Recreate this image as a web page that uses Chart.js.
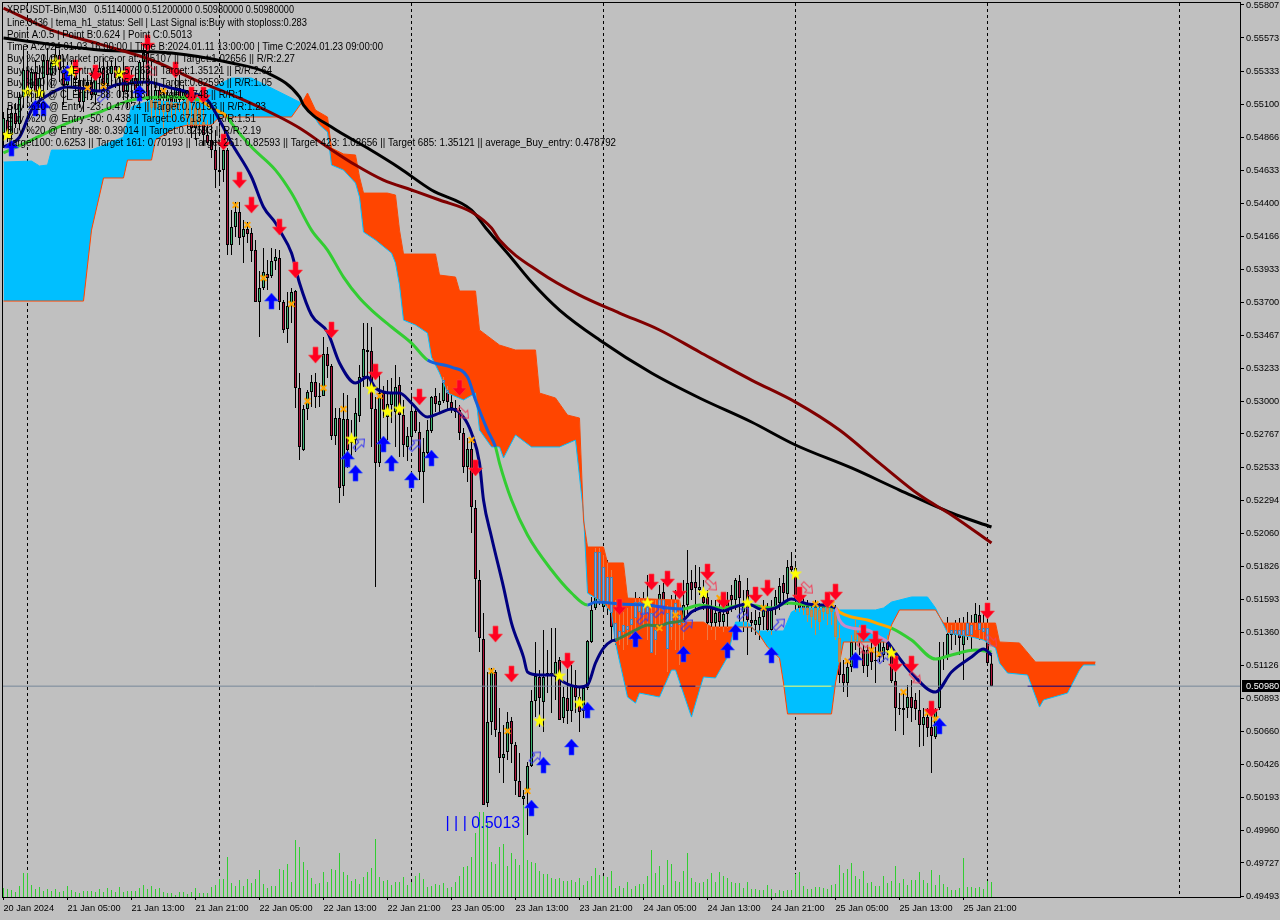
<!DOCTYPE html>
<html>
<head>
<meta charset="utf-8">
<title>XRPUSDT-Bin,M30</title>
<script src="https://cdn.jsdelivr.net/npm/chart.js@4"></script>
<style>
  html, body { margin: 0; padding: 0; background: #C0C0C0; }
  canvas { display: block; }
</style>
</head>
<body>
<canvas id="chart" width="1280" height="920"></canvas>
<script>
// M30 candles, one value per bar
const opens = [0.549,0.54992,0.54885,0.55041,0.54963,0.55155,0.55346,0.55218,0.55332,0.5519,0.55289,0.55417,0.55311,0.55396,0.55452,0.55346,0.5524,0.55332,0.55374,0.55275,0.55119,0.55218,0.55261,0.55169,0.55289,0.5536,0.55247,0.55318,0.55374,0.55289,0.55332,0.5519,0.55247,0.55289,0.55204,0.55403,0.55466,0.55133,0.55077,0.55204,0.55098,0.55048,0.55169,0.55077,0.55218,0.55133,0.5519,0.55006,0.54935,0.55077,0.54977,0.54885,0.5485,0.54779,0.54637,0.54637,0.54779,0.54106,0.54233,0.5434,0.54163,0.54219,0.54191,0.5407,0.53702,0.53801,0.539,0.53886,0.53992,0.54014,0.53702,0.53511,0.53674,0.5378,0.53093,0.52653,0.52944,0.53064,0.53135,0.53036,0.53036,0.53333,0.53249,0.52753,0.5288,0.52398,0.52873,0.52745,0.52724,0.52894,0.5317,0.53348,0.53355,0.52944,0.52561,0.53057,0.52887,0.52972,0.52923,0.53114,0.52901,0.52675,0.52745,0.5293,0.52781,0.52497,0.52632,0.52788,0.53036,0.52972,0.53,0.53078,0.52993,0.52923,0.52937,0.52774,0.52533,0.5266,0.52242,0.51732,0.51314,0.50152,0.50726,0.5108,0.50655,0.50471,0.50513,0.50733,0.50563,0.50308,0.5018,0.50223,0.50414,0.50875,0.51045,0.50868,0.51073,0.51059,0.51045,0.51165,0.50754,0.50896,0.50804,0.50988,0.50903,0.50804,0.50967,0.51293,0.51534,0.5193,0.51541,0.51753,0.51753,0.51293,0.51321,0.51364,0.51378,0.51413,0.51463,0.51576,0.51548,0.51541,0.51498,0.51307,0.51541,0.51647,0.51498,0.51399,0.51569,0.51413,0.51427,0.51555,0.51718,0.51718,0.51661,0.51612,0.51612,0.51541,0.51427,0.51505,0.51434,0.5159,0.51626,0.5159,0.51725,0.51505,0.51661,0.51449,0.51413,0.51413,0.5147,0.5152,0.51378,0.51534,0.51569,0.51711,0.51633,0.51831,0.51817,0.5159,0.51562,0.51548,0.5147,0.51541,0.51434,0.51548,0.51491,0.51534,0.51505,0.51321,0.51066,0.51002,0.51116,0.51307,0.51357,0.51236,0.51123,0.51236,0.51165,0.51186,0.51201,0.51293,0.51215,0.51016,0.50825,0.50811,0.50825,0.50903,0.50882,0.50811,0.50705,0.50761,0.5069,0.5062,0.50825,0.51186,0.51193,0.51378,0.51342,0.51378,0.51271,0.51427,0.51342,0.51427,0.51484,0.51392,0.51392,0.5114];
const highs = [0.55048,0.55077,0.55098,0.55112,0.5519,0.55509,0.55452,0.5536,0.55417,0.55381,0.55452,0.55502,0.55452,0.55523,0.55488,0.55431,0.55403,0.55417,0.55417,0.5536,0.55289,0.55311,0.55332,0.55346,0.55403,0.55431,0.55403,0.55417,0.55431,0.55374,0.55403,0.55289,0.55346,0.5536,0.55417,0.55502,0.55523,0.55403,0.55261,0.5524,0.55218,0.55204,0.5524,0.55289,0.55311,0.5524,0.55204,0.55133,0.55133,0.55133,0.55098,0.54992,0.54956,0.54921,0.548,0.54779,0.54793,0.54354,0.54411,0.54411,0.54283,0.54269,0.54226,0.54141,0.53922,0.54085,0.53999,0.54085,0.54078,0.5407,0.53716,0.53773,0.53801,0.53787,0.53199,0.52972,0.53078,0.53185,0.53199,0.53128,0.53454,0.53383,0.53263,0.52951,0.52951,0.53057,0.53043,0.52866,0.53022,0.53256,0.53553,0.53553,0.53525,0.53029,0.53185,0.53107,0.53149,0.53164,0.53256,0.5317,0.53008,0.52816,0.53057,0.52958,0.52852,0.52738,0.52866,0.53036,0.53093,0.53057,0.5317,0.53107,0.53043,0.53008,0.52972,0.52809,0.52738,0.52724,0.52299,0.51803,0.51498,0.5108,0.51108,0.51094,0.50825,0.50705,0.50797,0.50761,0.50584,0.50506,0.50244,0.50442,0.50953,0.51293,0.51094,0.51378,0.51236,0.51392,0.51392,0.51186,0.50974,0.51116,0.5113,0.51094,0.50974,0.50988,0.51307,0.51612,0.51959,0.51959,0.51909,0.51874,0.51803,0.5159,0.5152,0.51505,0.51534,0.51555,0.51647,0.51612,0.51647,0.51768,0.5159,0.5159,0.51697,0.51711,0.51555,0.51626,0.51661,0.5159,0.51732,0.51945,0.51803,0.51838,0.51824,0.51732,0.51661,0.5159,0.5159,0.51612,0.51555,0.51647,0.51697,0.51746,0.51768,0.51661,0.51746,0.51505,0.5152,0.51505,0.5159,0.51569,0.5159,0.51661,0.51746,0.51768,0.51874,0.5193,0.5186,0.51661,0.51626,0.5159,0.51569,0.5159,0.51569,0.51576,0.51555,0.5159,0.51555,0.51413,0.51165,0.51165,0.51342,0.51449,0.51413,0.51271,0.51271,0.51307,0.51257,0.51342,0.51293,0.51342,0.5125,0.51144,0.50931,0.50938,0.50988,0.51023,0.50931,0.50953,0.50825,0.50825,0.50775,0.50825,0.51293,0.51293,0.5147,0.51413,0.51449,0.51463,0.5147,0.51505,0.51484,0.51569,0.51555,0.51505,0.51484,0.512];
const lows = [0.54793,0.54836,0.54829,0.54935,0.54921,0.55077,0.55112,0.55119,0.55133,0.55098,0.55133,0.55204,0.55218,0.55311,0.55261,0.55098,0.55133,0.55218,0.5519,0.55077,0.55048,0.55133,0.55133,0.55098,0.5519,0.55204,0.55133,0.5524,0.55218,0.55147,0.55133,0.55077,0.55105,0.55133,0.55119,0.55275,0.55062,0.55006,0.55006,0.55027,0.54935,0.54977,0.55006,0.54977,0.55048,0.54992,0.54935,0.54864,0.5485,0.54878,0.54807,0.54815,0.54722,0.5451,0.54545,0.54552,0.54035,0.54035,0.54163,0.54106,0.53978,0.5412,0.53985,0.53702,0.53454,0.53787,0.53787,0.53872,0.53929,0.53645,0.53482,0.53411,0.53553,0.52951,0.52582,0.52646,0.52866,0.52958,0.52951,0.52958,0.53036,0.53164,0.52724,0.52689,0.52278,0.52327,0.52526,0.52597,0.52639,0.52852,0.531,0.531,0.52675,0.51682,0.52533,0.5288,0.52724,0.52845,0.52675,0.52604,0.52604,0.52575,0.52675,0.52774,0.52441,0.52278,0.52604,0.52774,0.52923,0.52915,0.52986,0.52937,0.52915,0.5288,0.52724,0.5249,0.52426,0.52065,0.51364,0.51222,0.50138,0.50124,0.50634,0.5062,0.50364,0.50294,0.50457,0.50435,0.50209,0.50194,0.50138,0.49925,0.50407,0.50761,0.5069,0.50655,0.50931,0.5079,0.50882,0.5074,0.50719,0.50712,0.50726,0.5079,0.50655,0.50754,0.50953,0.51286,0.5152,0.51555,0.51505,0.51484,0.51307,0.51271,0.51271,0.51236,0.51271,0.51307,0.51293,0.51413,0.51413,0.51307,0.51215,0.51201,0.51378,0.51413,0.5108,0.51307,0.51236,0.5113,0.51307,0.51484,0.5159,0.51505,0.51626,0.5152,0.51307,0.51378,0.51307,0.51392,0.51364,0.51392,0.51505,0.5152,0.51434,0.51364,0.51201,0.51364,0.51342,0.51307,0.51378,0.51364,0.51342,0.51484,0.5152,0.51555,0.51555,0.51789,0.51505,0.51505,0.51484,0.51434,0.51392,0.51342,0.51378,0.51449,0.51413,0.51413,0.51307,0.51002,0.50938,0.50903,0.5108,0.51236,0.51201,0.51073,0.51045,0.51094,0.51002,0.51151,0.51151,0.51201,0.51002,0.50662,0.50775,0.50634,0.50754,0.50726,0.5074,0.50549,0.50556,0.5062,0.50364,0.50605,0.50811,0.51094,0.51165,0.51236,0.51271,0.51201,0.51023,0.51307,0.51236,0.51378,0.51307,0.51307,0.5113,0.5098];
const closes = [0.55006,0.54885,0.55041,0.54963,0.55155,0.55346,0.55218,0.55332,0.5519,0.55289,0.55417,0.55311,0.55396,0.55452,0.55346,0.5524,0.55332,0.55374,0.55275,0.55119,0.55218,0.55261,0.55169,0.55289,0.5536,0.55247,0.55318,0.55374,0.55289,0.55332,0.5519,0.55247,0.55289,0.55204,0.55403,0.55466,0.55133,0.55077,0.55204,0.55098,0.55048,0.55169,0.55077,0.55218,0.55133,0.5519,0.55006,0.54935,0.55077,0.54977,0.54885,0.54829,0.54779,0.54637,0.54623,0.54779,0.54106,0.54233,0.5434,0.54156,0.54219,0.54184,0.54063,0.53702,0.53801,0.53915,0.53872,0.53992,0.54021,0.53702,0.53504,0.53674,0.53773,0.53093,0.52675,0.52944,0.53064,0.53135,0.53029,0.53029,0.53333,0.53249,0.52753,0.5288,0.52384,0.52873,0.52653,0.52703,0.52915,0.5317,0.53369,0.53362,0.52944,0.52561,0.53057,0.52937,0.52979,0.53057,0.531,0.52901,0.52689,0.52753,0.5293,0.52788,0.52497,0.52639,0.52795,0.53029,0.52979,0.53,0.53149,0.52993,0.52951,0.52951,0.52774,0.52533,0.5266,0.5225,0.51739,0.51321,0.50138,0.50726,0.5108,0.50669,0.50471,0.50499,0.50726,0.5057,0.50308,0.50194,0.50202,0.50414,0.50875,0.51052,0.50896,0.51045,0.51059,0.51073,0.51151,0.5074,0.50903,0.50804,0.50988,0.50903,0.50797,0.50967,0.513,0.5152,0.5193,0.5159,0.51824,0.51569,0.51399,0.51427,0.51371,0.51413,0.51406,0.51456,0.51576,0.51505,0.51484,0.51498,0.51215,0.51378,0.51633,0.5152,0.51243,0.51541,0.5147,0.51484,0.51555,0.51711,0.51661,0.51675,0.51682,0.51569,0.51427,0.51427,0.51498,0.51434,0.51491,0.51491,0.5159,0.51732,0.51604,0.51569,0.51449,0.51427,0.51449,0.5147,0.51541,0.51378,0.5152,0.51612,0.5169,0.5164,0.51824,0.51803,0.5159,0.51534,0.5152,0.51484,0.5152,0.51449,0.5152,0.51505,0.51534,0.51505,0.51328,0.51059,0.51002,0.51116,0.51293,0.51392,0.51293,0.51123,0.51236,0.51151,0.51158,0.51293,0.51257,0.51236,0.51016,0.50825,0.50818,0.50825,0.50903,0.50825,0.50818,0.50705,0.50761,0.50683,0.50627,0.50811,0.51186,0.51193,0.51349,0.51342,0.51378,0.51321,0.51378,0.51342,0.51413,0.51491,0.51378,0.51364,0.51144,0.5098];
const volumes = [9,8,7,5,11,24,24,12,8,10,6,8,6,8,5,6,11,7,5,4,6,6,6,5,8,5,9,7,5,10,5,6,6,6,9,12,8,11,8,9,5,4,4,2,5,5,3,5,9,4,4,4,10,12,18,18,40,14,11,17,11,18,14,18,27,13,9,11,11,28,27,33,15,57,50,35,27,19,13,14,25,15,28,27,44,25,22,16,18,13,20,25,29,58,20,16,17,12,15,15,20,12,15,21,24,18,10,11,13,12,14,9,10,15,21,30,31,40,64,85,85,75,35,33,50,53,31,44,38,32,92,37,35,34,26,23,23,19,18,19,16,16,17,15,19,12,16,21,29,22,21,20,26,9,11,9,15,8,11,13,13,21,47,24,31,12,37,33,16,15,26,44,19,15,14,15,18,24,15,25,21,19,15,14,14,9,15,8,8,7,7,12,8,4,7,6,7,7,23,25,11,8,8,10,10,9,8,12,13,32,24,28,34,21,18,26,14,15,11,11,21,14,16,31,14,18,12,17,17,25,17,14,27,12,22,13,10,7,7,9,39,10,10,9,10,8,16,15];
const lastPrice = 0.5098;

// ichimoku spans, read at their break points (the cloud runs 26 bars past the last candle)
const spanABars = [0,7,9,11,12,22,30,32,37,44,51,57,62,68,74,77,79,81,82,85,88,89,90,93,97,98,99,100,103,106,107,109,111,115,118,119,122,124,125,128,132,139,143,145,146,150,152,153,156,158,159,164,167,168,172,174,175,178,181,183,186,188,195,197,199,207,209,218,220,222,227,231,233,236,239,242,245,248,249,251,256,259,260,266,269,270,273];
const spanAPrices = [0.54694,0.54701,0.54666,0.54673,0.54779,0.54779,0.54871,0.55084,0.55133,0.55112,0.55204,0.55289,0.55289,0.55204,0.55119,0.55041,0.54956,0.54907,0.54673,0.54637,0.54545,0.54446,0.54198,0.54141,0.54049,0.53978,0.53822,0.53574,0.53539,0.53482,0.53312,0.53199,0.53057,0.53008,0.53057,0.52795,0.52675,0.52675,0.52597,0.5276,0.52675,0.52675,0.52724,0.52207,0.5164,0.51569,0.51498,0.51286,0.50903,0.5086,0.50931,0.50903,0.51094,0.51094,0.50761,0.50953,0.51045,0.51038,0.51186,0.51434,0.51434,0.51371,0.51371,0.51505,0.51534,0.51534,0.5152,0.5152,0.51534,0.51576,0.51612,0.51612,0.51534,0.51357,0.51342,0.51328,0.51307,0.5125,0.51144,0.51073,0.51059,0.50832,0.50882,0.50931,0.51094,0.5113,0.5113];
const spanBBars = [0,20,22,25,30,31,37,38,43,46,52,54,72,75,76,78,81,82,85,88,89,90,96,98,99,100,108,109,113,114,118,119,124,128,133,134,138,141,144,145,146,150,151,155,156,169,170,175,177,187,189,191,194,195,196,207,208,210,221,222,224,233,235,248,249,254,258,273];
const spanBPrices = [0.53709,0.53709,0.54212,0.54581,0.54581,0.54708,0.54708,0.5485,0.54935,0.54956,0.54956,0.55013,0.55013,0.55133,0.55183,0.55062,0.55013,0.54793,0.54751,0.54744,0.54588,0.54474,0.54474,0.5446,0.54212,0.54042,0.54042,0.53893,0.53879,0.5378,0.5378,0.53504,0.53397,0.53362,0.53362,0.53057,0.53022,0.52901,0.5288,0.52157,0.51966,0.51966,0.51853,0.51853,0.51604,0.5159,0.51434,0.51434,0.51399,0.51399,0.51342,0.51257,0.51179,0.51002,0.50783,0.50783,0.51002,0.51293,0.51293,0.51413,0.5152,0.5152,0.51427,0.51427,0.51293,0.51286,0.51151,0.51151];

// moving averages
const blackBars = [0,24,42,57,66,74,75,82,91,99,107,117,121,127,132,139,149,162,174,187,198,212,224,237,247];
const blackPrices = [0.55573,0.55488,0.55466,0.55396,0.55325,0.55155,0.55098,0.54942,0.54793,0.54652,0.54496,0.54354,0.54212,0.54014,0.53844,0.53645,0.53433,0.53199,0.53022,0.52852,0.52689,0.52526,0.5237,0.52207,0.52108];
const maroonBars = [0,12,24,37,48,59,69,74,81,88,95,102,109,117,122,124,134,144,154,164,174,187,198,209,219,229,237,247];
const maroonPrices = [0.55785,0.55629,0.5553,0.55417,0.55275,0.55147,0.55013,0.54935,0.548,0.54673,0.54566,0.54496,0.54425,0.5434,0.54226,0.54141,0.53915,0.53751,0.53624,0.53504,0.53348,0.53149,0.52993,0.52795,0.52561,0.52334,0.52193,0.51994];
const navyBars = [0,4,7,12,16,19,24,28,32,36,41,46,51,54,57,62,65,68,69,72,74,77,81,84,88,91,93,97,99,102,106,109,112,115,117,119,120,122,125,127,130,131,134,138,140,144,146,148,150,152,153,159,161,164,166,170,172,176,180,182,186,190,193,197,201,204,208,209,212,216,219,221,223,227,233,237,242,245,247];
const navyPrices = [0.548,0.54871,0.55062,0.55183,0.55225,0.55218,0.55197,0.5524,0.55254,0.55261,0.55225,0.5519,0.55133,0.54992,0.54829,0.54588,0.54375,0.54262,0.54212,0.54049,0.53837,0.5361,0.53489,0.5327,0.53128,0.5317,0.53093,0.53057,0.53057,0.52986,0.52887,0.52915,0.52944,0.52887,0.52774,0.52561,0.52299,0.52037,0.51682,0.51427,0.51186,0.5108,0.51059,0.51059,0.51009,0.50974,0.50988,0.51144,0.5125,0.513,0.51307,0.51392,0.51413,0.51406,0.51427,0.51449,0.51505,0.51541,0.51513,0.51534,0.51562,0.5152,0.51534,0.51597,0.51562,0.51555,0.51534,0.51449,0.51392,0.51378,0.51328,0.51293,0.51215,0.51073,0.50938,0.5108,0.51186,0.51243,0.51201];
const limeBars = [0,7,16,24,32,41,49,52,56,57,62,68,72,77,81,85,89,92,97,102,106,112,116,118,121,123,124,127,131,137,142,146,148,154,161,166,170,174,179,186,192,196,201,208,209,212,216,219,222,227,233,237,243,247];
const limePrices = [0.54758,0.5485,0.5497,0.55048,0.55133,0.55155,0.55133,0.55077,0.55013,0.5497,0.548,0.54637,0.54474,0.54212,0.5407,0.53879,0.5373,0.53645,0.53525,0.53411,0.53291,0.53241,0.5317,0.53008,0.52795,0.52675,0.52561,0.52299,0.52051,0.51803,0.5164,0.51555,0.51576,0.51562,0.51555,0.51534,0.51527,0.51555,0.51534,0.51555,0.51534,0.51569,0.51555,0.51534,0.51505,0.5147,0.51449,0.5142,0.51392,0.51307,0.51172,0.51201,0.51236,0.51222];

// signal markers
const sellBars = [36,18,23,31,43,47,50,55,59,62,69,73,82,78,93,104,114,118,123,127,141,154,162,166,169,176,180,188,191,199,206,208,215,218,223,227,232,246];
const sellPrices = [0.55537,0.5536,0.55325,0.55311,0.55346,0.55169,0.55169,0.54836,0.54566,0.54389,0.54233,0.53929,0.53504,0.53326,0.53206,0.53029,0.53093,0.52526,0.51349,0.51066,0.51158,0.51541,0.51718,0.51739,0.51654,0.51789,0.5159,0.51626,0.51675,0.51626,0.5159,0.51647,0.51357,0.51314,0.51137,0.51137,0.50818,0.51513];
const buyBars = [2,16,8,10,34,67,86,88,95,97,102,107,132,135,142,146,158,170,181,183,192,213,234];
const buyPrices = [0.54793,0.55325,0.55077,0.55077,0.55183,0.53709,0.52589,0.5249,0.52696,0.52561,0.52441,0.52597,0.50117,0.50421,0.50549,0.50811,0.51314,0.51208,0.51236,0.51364,0.51201,0.51165,0.50698];
const starBars = [1,6,9,13,17,29,87,92,96,99,134,139,144,161,175,186,198,222];
const starPrices = [0.54885,0.5519,0.55183,0.55403,0.55339,0.55325,0.52731,0.53086,0.52923,0.52944,0.50733,0.51052,0.5086,0.51569,0.5164,0.51569,0.51775,0.51215];
const crossBars = [21,25,40,58,61,65,72,76,80,85,94,117,122,126,131,164,168,179,190,203,207,211,217,219,225,231,233];
const crossPrices = [0.55218,0.55233,0.55197,0.54389,0.54248,0.53872,0.53688,0.53,0.53093,0.52944,0.53036,0.52724,0.51087,0.50662,0.50237,0.51392,0.51484,0.51604,0.51534,0.51562,0.51562,0.51158,0.51236,0.51208,0.50938,0.5079,0.50747];
const hollowBuyBars = [25,89,103,133,160,164,171,185,194,220];
const hollowBuyPrices = [0.55162,0.52696,0.52689,0.50478,0.51463,0.51512,0.51413,0.51498,0.5142,0.51186];
const hollowSellBars = [37,115,177,201,215,228,247];
const hollowSellPrices = [0.55346,0.52915,0.51697,0.51675,0.5125,0.51038,0.513];

// axes
const xTickBars = [0,16,32,48,64,80,96,112,128,144,160,176,192,208,224,240];
const xTickLabels = ['20 Jan 2024','21 Jan 05:00','21 Jan 13:00','21 Jan 21:00','22 Jan 05:00','22 Jan 13:00','22 Jan 21:00','23 Jan 05:00','23 Jan 13:00','23 Jan 21:00','24 Jan 05:00','24 Jan 13:00','24 Jan 21:00','25 Jan 05:00','25 Jan 13:00','25 Jan 21:00'];
const separatorBars = [6,54,102,150,198,246,294];
const yTickLabels = ['0.55807','0.55573','0.55333','0.55100','0.54866','0.54633','0.54400','0.54166','0.53933','0.53700','0.53467','0.53233','0.53000','0.52767','0.52533','0.52294','0.52060','0.51826','0.51593','0.51360','0.51126','0.50893','0.50660','0.50426','0.50193','0.49960','0.49727','0.49493'];

const commentLines = [
  'XRPUSDT-Bin,M30   0.51140000 0.51200000 0.50980000 0.50980000',
  'Line:3436 | tema_h1_status: Sell | Last Signal is:Buy with stoploss:0.283',
  'Point A:0.5 | Point B:0.624 | Point C:0.5013',
  'Time A:2024.01.03 16:00:00 | Time B:2024.01.11 13:00:00 | Time C:2024.01.23 09:00:00',
  'Buy %20 @ Market price or at: 0.5107 || Target:1.02656 || R/R:2.27',
  'Buy %10 @ C_Entry -38: 0.57663 || Target:1.35121 || R/R:2.64',
  'Buy %10 @ C_Entry -61: 0.54178 || Target:0.82593 || R/R:1.05',
  'Buy %10 @ C_Entry -88: 0.5153 || Target:0.748 || R/R:1',
  'Buy %10 @ Entry -23: 0.47074 || Target:0.70193 || R/R:1.23',
  'Buy %20 @ Entry -50: 0.438 || Target:0.67137 || R/R:1.51',
  'Buy %20 @ Entry -88: 0.39014 || Target:0.82593 || R/R:2.19',
  'Target100: 0.6253 || Target 161: 0.70193 || Target 261: 0.82593 || Target 423: 1.02656 || Target 685: 1.35121 || average_Buy_entry: 0.478792'
];
const commentWidths = [287,300,185,376,288,265,265,236,259,249,254,609];
const pointCLabel = '| | | 0.5013';
const FONT = '"Liberation Sans", Arial, sans-serif';
const TICK_SIZE = 9.2;

// point images for the arrows and stars
function newIcon(w, h) {
  const c = document.createElement('canvas');
  c.width = w;
  c.height = h;
  return c;
}

function solidArrow(color, halo, up) {
  const c = newIcon(17, 18);
  const g = c.getContext('2d');
  if (up) { g.translate(0, 18); g.scale(1, -1); }
  g.beginPath();
  g.moveTo(6, 1); g.lineTo(11, 1); g.lineTo(11, 9); g.lineTo(15.5, 9);
  g.lineTo(8.5, 17); g.lineTo(1.5, 9); g.lineTo(6, 9);
  g.closePath();
  g.fillStyle = color;
  g.fill();
  g.strokeStyle = halo;
  g.stroke();
  return c;
}

function hollowArrow(color, down) {
  const c = newIcon(17, 17);
  const g = c.getContext('2d');
  g.translate(8.5, 8.5);
  g.rotate(down ? Math.PI * 0.75 : Math.PI * 0.25);
  g.beginPath();
  g.moveTo(-2, 7); g.lineTo(2, 7); g.lineTo(2, -1); g.lineTo(5, -1);
  g.lineTo(0, -7); g.lineTo(-5, -1); g.lineTo(-2, -1);
  g.closePath();
  g.strokeStyle = color;
  g.lineWidth = 1;
  g.stroke();
  return c;
}

function starIcon() {
  const c = newIcon(15, 15);
  const g = c.getContext('2d');
  g.beginPath();
  for (let k = 0; k < 10; k++) {
    const r = k % 2 ? 2.8 : 7;
    const a = -Math.PI / 2 + k * Math.PI / 5;
    g.lineTo(7.5 + r * Math.cos(a), 7.5 + r * Math.sin(a));
  }
  g.closePath();
  g.fillStyle = '#FFFF00';
  g.fill();
  return c;
}

function zip(bars, values) {
  return bars.map((x, i) => ({ x: x, y: values[i] }));
}

function spanAt(bars, prices, bar) {
  for (let k = 1; k < bars.length; k++) {
    if (bar <= bars[k]) {
      const t = (bar - bars[k - 1]) / (bars[k] - bars[k - 1]);
      return prices[k - 1] + t * (prices[k] - prices[k - 1]);
    }
  }
  return prices[prices.length - 1];
}

// candles seen through the cloud change colour in the terminal, so split those parts off
const tintedWicks = [];
const tintedBodies = [];
opens.forEach((open, i) => {
  const a = spanAt(spanABars, spanAPrices, i);
  const b = spanAt(spanBBars, spanBPrices, i);
  const bottom = Math.min(a, b);
  const top = Math.max(a, b);
  const onBlue = a > b;
  const wickLow = Math.max(lows[i], bottom);
  const wickHigh = Math.min(highs[i], top);
  if (wickHigh > wickLow) tintedWicks.push({ x: i, y: [wickLow, wickHigh], onBlue: onBlue });
  const bodyLow = Math.max(Math.min(open, closes[i]), bottom);
  const bodyHigh = Math.min(Math.max(open, closes[i]), top);
  if (bodyHigh > bodyLow) tintedBodies.push({ x: i, y: [bodyLow, bodyHigh], onBlue: onBlue });
});

function limeColor(ctx) {
  const x = ctx.p0.parsed.x;
  if ((x >= 106 && x < 123) || (x >= 146 && x < 170)) return '#1560D8';
  if ((x >= 49 && x < 56) || (x >= 208 && x < 222)) return '#FFA500';
  return '#32CD32';
}

function navyColor(ctx) {
  const x = ctx.p0.parsed.x;
  if (x >= 153 && x < 170) return '#3E8045';
  if (x >= 208 && x < 221) return '#C78BC8';
  return '#000080';
}

function priceLineColor(ctx) {
  const x = ctx.p0.parsed.x;
  if (x >= 195 && x < 207) return '#FFFF66';
  if ((x >= 156 && x < 165) || (x >= 169 && x < 173) || (x >= 256 && x < 267)) return '#000080';
  return '#778899';
}

function lineSet(label, bars, values, color, order, extra) {
  return Object.assign({
    type: 'line', label: label, data: zip(bars, values), borderColor: color,
    borderWidth: 3, pointRadius: 0, fill: false, order: order, cubicInterpolationMode: 'monotone'
  }, extra || {});
}

function markerSet(label, bars, values, style, extra) {
  return Object.assign({
    type: 'line', label: label, data: zip(bars, values), showLine: false,
    pointStyle: style, pointRadius: 6, order: 10
  }, extra || {});
}

const priceLineBars = [-1,156,165,169,173,195,207,256,267,310];

const datasets = [
  { type: 'bar', label: 'Volume', yAxisID: 'yVol', data: volumes.map((v, i) => ({ x: i, y: v })),
    backgroundColor: '#32CD32', maxBarThickness: 1, order: 100 },
  { type: 'bar', label: 'Wicks', data: opens.map((o, i) => ({ x: i, y: [lows[i], highs[i]] })),
    backgroundColor: '#000000', maxBarThickness: 1, order: 90 },
  { type: 'bar', label: 'Bodies', data: opens.map((o, i) => ({ x: i, y: [Math.min(o, closes[i]), Math.max(o, closes[i])] })),
    backgroundColor: opens.map((o, i) => (closes[i] >= o ? '#3CB371' : '#B0123B')),
    borderColor: '#000000', borderWidth: 1, borderSkipped: false, maxBarThickness: 3, order: 85 },
  lineSet('Span A', spanABars, spanAPrices, '#00BFFF', 80,
    { borderWidth: 1, cubicInterpolationMode: 'default', fill: { target: '+1', above: '#00BFFF', below: '#FF4500' } }),
  lineSet('Span B', spanBBars, spanBPrices, '#FF4500', 79, { borderWidth: 1, cubicInterpolationMode: 'default' }),
  lineSet('Last price', priceLineBars, priceLineBars.map(() => lastPrice), '#778899', 70,
    { borderWidth: 1, cubicInterpolationMode: 'default', segment: { borderColor: priceLineColor } }),
  { type: 'bar', label: 'Wicks in cloud', data: tintedWicks,
    backgroundColor: (c) => (c.raw && c.raw.onBlue ? '#D08A45' : '#EE7A45'), maxBarThickness: 1, order: 65 },
  { type: 'bar', label: 'Bodies in cloud', data: tintedBodies,
    backgroundColor: (c) => (c.raw && c.raw.onBlue ? '#C08C50' : '#7FA6E0'),
    borderColor: (c) => (c.raw && c.raw.onBlue ? '#B8864B' : '#4682B4'),
    borderWidth: 1, borderSkipped: false, maxBarThickness: 3, order: 60 },
  lineSet('Slow MA', blackBars, blackPrices, '#000000', 50),
  lineSet('Long MA', maroonBars, maroonPrices, '#800000', 49),
  lineSet('Mid MA', limeBars, limePrices, '#32CD32', 48, { segment: { borderColor: limeColor } }),
  lineSet('Tema', navyBars, navyPrices, '#000080', 47, { segment: { borderColor: navyColor } }),
  markerSet('Crosses', crossBars, crossPrices, 'crossRot',
    { pointRadius: 4, pointBorderColor: '#FFA500', pointBorderWidth: 2, order: 12 }),
  markerSet('Hollow buy', hollowBuyBars, hollowBuyPrices, hollowArrow('#3A3AF0', false), { order: 11 }),
  markerSet('Hollow sell', hollowSellBars, hollowSellPrices, hollowArrow('#F0405A', true), { order: 11 }),
  markerSet('Stars', starBars, starPrices, starIcon()),
  markerSet('Sell arrows', sellBars, sellPrices, solidArrow('#FF0020', 'rgba(255,60,60,0.6)', false)),
  markerSet('Buy arrows', buyBars, buyPrices, solidArrow('#0000FF', 'rgba(50,90,255,0.6)', true))
];

const terminalPlugin = {
  id: 'terminal',
  beforeDatasetsDraw(chart) {
    const { ctx, chartArea, scales } = chart;
    ctx.save();
    ctx.strokeStyle = '#000000';
    ctx.lineWidth = 1;
    ctx.setLineDash([3, 3]);
    separatorBars.forEach((bar) => {
      const x = Math.floor(scales.x.getPixelForValue(bar)) + 0.5;
      ctx.beginPath();
      ctx.moveTo(x, chartArea.top);
      ctx.lineTo(x, chartArea.bottom);
      ctx.stroke();
    });
    ctx.restore();
  },
  afterDatasetsDraw(chart) {
    const { ctx, scales } = chart;
    ctx.save();
    ctx.fillStyle = '#000000';
    ctx.font = '10px ' + FONT;
    ctx.textBaseline = 'middle';
    commentLines.forEach((line, k) => {
      ctx.fillText(line, 7, k === 0 ? 10 : 23 + (k - 1) * 12, commentWidths[k]);
    });
    ctx.fillStyle = '#0000FF';
    ctx.font = '16px ' + FONT;
    ctx.fillText(pointCLabel, scales.x.getPixelForValue(110.5), scales.y.getPixelForValue(0.50003));
    ctx.restore();
  },
  afterDraw(chart) {
    const { ctx, chartArea, scales } = chart;
    ctx.save();
    ctx.strokeStyle = '#000000';
    ctx.lineWidth = 1;
    ctx.strokeRect(chartArea.left - 0.5, chartArea.top - 0.5,
      chartArea.right - chartArea.left + 1, chartArea.bottom - chartArea.top + 1);
    const y = Math.round(scales.y.getPixelForValue(lastPrice));
    ctx.fillStyle = '#000000';
    ctx.fillRect(1242, y - 6, 38, 12);
    ctx.fillStyle = '#FFFFFF';
    ctx.font = TICK_SIZE + 'px ' + FONT;
    ctx.textBaseline = 'middle';
    ctx.fillText(lastPrice.toFixed(5), 1246, y);
    ctx.restore();
  }
};

new Chart(document.getElementById('chart'), {
  type: 'bar',
  data: { datasets: datasets },
  plugins: [terminalPlugin],
  options: {
    responsive: false,
    animation: false,
    events: [],
    layout: { autoPadding: false, padding: { left: 3, top: 3, right: 0, bottom: 0 } },
    datasets: { bar: { grouped: false, barPercentage: 1, categoryPercentage: 1, inflateAmount: 0 } },
    plugins: { legend: { display: false }, tooltip: { enabled: false } },
    scales: {
      x: {
        type: 'linear', offset: false, min: -0.125, max: 309.125,
        border: { display: false },
        grid: { offset: false, drawOnChartArea: false, color: '#000000', tickLength: 3 },
        afterBuildTicks: (axis) => { axis.ticks = xTickBars.map((v) => ({ value: v })); },
        afterFit: (axis) => { axis.height = 23; axis.paddingLeft = 0; axis.paddingRight = 0; },
        ticks: {
          autoSkip: false, maxRotation: 0, minRotation: 0, align: 'start', padding: 3,
          color: '#000000', font: { family: FONT, size: TICK_SIZE },
          callback: (v) => xTickLabels[xTickBars.indexOf(v)]
        }
      },
      y: {
        position: 'right', min: 0.49486, max: 0.55821,
        border: { display: false },
        grid: { drawOnChartArea: false, color: '#000000', tickLength: 4 },
        afterBuildTicks: (axis) => { axis.ticks = yTickLabels.map((t) => ({ value: parseFloat(t) })); },
        afterFit: (axis) => { axis.width = 40; axis.paddingTop = 0; axis.paddingBottom = 0; },
        ticks: {
          autoSkip: false, padding: 2, color: '#000000', font: { family: FONT, size: TICK_SIZE },
          callback: (v) => v.toFixed(5)
        }
      },
      yVol: { display: false, min: 0, max: 894 }
    }
  }
});
</script>
</body>
</html>
